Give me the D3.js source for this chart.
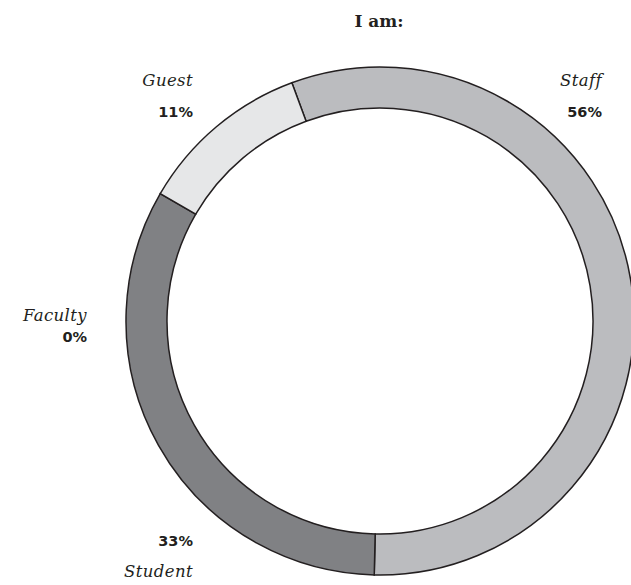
<!DOCTYPE html>
<html>
<head>
<meta charset="utf-8">
<script src="https://cdn.jsdelivr.net/npm/d3@7"></script>
<style>
  html, body { margin: 0; padding: 0; background: #fff; }
  svg { display: block; }
</style>
</head>
<body>
<svg id="chart" width="631" height="585"></svg>
<script>
// ---- data ----
const title = "I am:";
const categories = ["Staff", "Student", "Faculty", "Guest"];
const values = [56, 33, 0, 11];
const percentLabels = ["56%", "33%", "0%", "11%"];
const colors = ["#bbbcbf", "#808184", "#58595b", "#e6e7e8"];

// ---- layout ----
const W = 631, H = 585;
const cx = 380, cy = 321;
const outerR = 254, innerR = 213;
const startDeg = -20.3;

const svg = d3.select("#chart");

svg.append("text")
  .attr("x", 379).attr("y", 27)
  .attr("text-anchor", "middle")
  .style("font-family", "'DejaVu Serif', serif")
  .style("font-weight", "bold")
  .style("font-size", "17px")
  .style("fill", "#231f20")
  .text(title);

const data = categories.map((c, i) => ({ cat: c, value: values[i], pct: percentLabels[i], color: colors[i] }));

const pie = d3.pie()
  .value(d => d.value)
  .sort(null)
  .startAngle(startDeg * Math.PI / 180)
  .endAngle((startDeg + 360) * Math.PI / 180);

const arc = d3.arc().innerRadius(innerR).outerRadius(outerR);

const g = svg.append("g").attr("transform", `translate(${cx},${cy})`);

g.selectAll("path.slice")
  .data(pie(data).filter(d => d.data.value > 0))
  .join("path")
  .attr("class", "slice")
  .attr("d", arc)
  .attr("fill", d => d.data.color)
  .attr("stroke", "#231f20")
  .attr("stroke-width", 1.5)
  .attr("stroke-linejoin", "miter");

// ---- labels (annotation placement relative to ring centre) ----
const labelPos = {
  "Staff":   { dx: 222,  nameDy: -235, pctDy: -204 },
  "Guest":   { dx: -187, nameDy: -235, pctDy: -204 },
  "Faculty": { dx: -293, nameDy: 0,    pctDy: 21 },
  "Student": { dx: -187, nameDy: 256,  pctDy: 225 }
};

const italicStyle = sel => sel
  .style("font-family", "'DejaVu Serif', serif")
  .style("font-style", "italic")
  .style("font-weight", "normal")
  .style("font-size", "16.5px")
  .style("letter-spacing", "0.4px")
  .style("fill", "#231f20");

const pctStyle = sel => sel
  .style("font-family", "'DejaVu Sans', sans-serif")
  .style("font-weight", "bold")
  .style("font-size", "14.5px")
  .style("fill", "#231f20");

data.forEach(d => {
  const p = labelPos[d.cat];
  g.append("text")
    .attr("x", p.dx).attr("y", p.nameDy)
    .attr("text-anchor", "end")
    .call(italicStyle)
    .text(d.cat);
  g.append("text")
    .attr("x", p.dx).attr("y", p.pctDy)
    .attr("text-anchor", "end")
    .call(pctStyle)
    .text(d.pct);
});
</script>
</body>
</html>
